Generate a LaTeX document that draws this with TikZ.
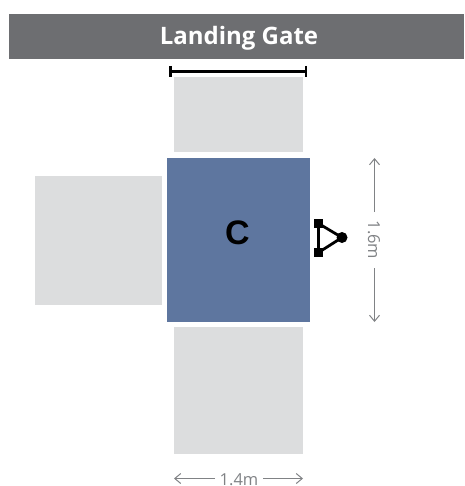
\documentclass[tikz,border=0pt]{standalone}
\usepackage{fontspec}
\setmainfont{Open Sans}
\newfontfamily\labelfont{Liberation Sans}
\usetikzlibrary{arrows.meta}
\definecolor{hdr}{HTML}{6D6E71}
\definecolor{pad}{HTML}{DCDDDE}
\definecolor{car}{HTML}{5E769F}
\definecolor{dim}{HTML}{808285}
\tikzset{
  x=1pt,y=-1pt,
  box/.style={anchor=north west,inner sep=0pt,outer sep=0pt,minimum width=#1},
  dimline/.style={draw=dim,line width=1pt,-{Straight Barb[length=6pt,width=10pt,line width=1pt]}},
  dimtext/.style={text=dim,font=\fontsize{16.5}{18}\selectfont,inner sep=0pt},
  gate/.style={line width=3.6pt,black},
  sym/.style={line width=2.8pt,black}
}
\begin{document}
\begin{tikzpicture}
\useasboundingbox (0,0) rectangle (464,486);
\node[box=455pt,minimum height=45pt,fill=hdr] (header) at (9,14) {};
\node[text=white,font=\fontsize{24}{26}\selectfont\bfseries,inner sep=0pt] (title) at (239,38.5) {Landing Gate};
\node[box=129pt,minimum height=75pt,fill=pad] (top) at (174,77) {};
\node[box=127pt,minimum height=129pt,fill=pad] (left) at (35,176) {};
\node[box=129pt,minimum height=127pt,fill=pad] (bottom) at (174,327) {};
\node[box=143pt,minimum height=164pt,fill=car] (cab) at (167,158) {};
\node[font=\labelfont\bfseries\fontsize{34}{36}\selectfont,inner sep=0pt] (c) at (237.5,232.5) {C};
% gate bar
\coordinate (g1) at (170.5,71.5);
\coordinate (g2) at (306,71.5);
\draw[gate] (g1) -- (g2);
\draw[line width=2.4pt] (170.5,66) -- (170.5,77) (306,66) -- (306,77);
% button symbol
\node[fill=black,minimum size=9.5pt,inner sep=0pt] (s1) at (318.5,223.5) {};
\node[fill=black,minimum size=9.5pt,inner sep=0pt] (s2) at (318.5,252.5) {};
\node[circle,fill=black,minimum size=11pt,inner sep=0pt] (s3) at (342,237.5) {};
\draw[sym] (s1.center) -- (s2.center) -- (s3.center) -- cycle;
% dimensions
\node[dimtext,rotate=-90] (h) at (374,240) {1.6m};
\coordinate (htop) at (374.5,158);
\coordinate (hbot) at (374.5,322);
\draw[dimline] (374.5,212) -- (htop);
\draw[dimline] (374.5,268) -- (hbot);
\node[dimtext] (w) at (239,479.5) {1.4m};
\coordinate (wl) at (174,478.5);
\coordinate (wr) at (303,478.5);
\draw[dimline] (215,478.5) -- (wl);
\draw[dimline] (263,478.5) -- (wr);
\end{tikzpicture}
\end{document}
